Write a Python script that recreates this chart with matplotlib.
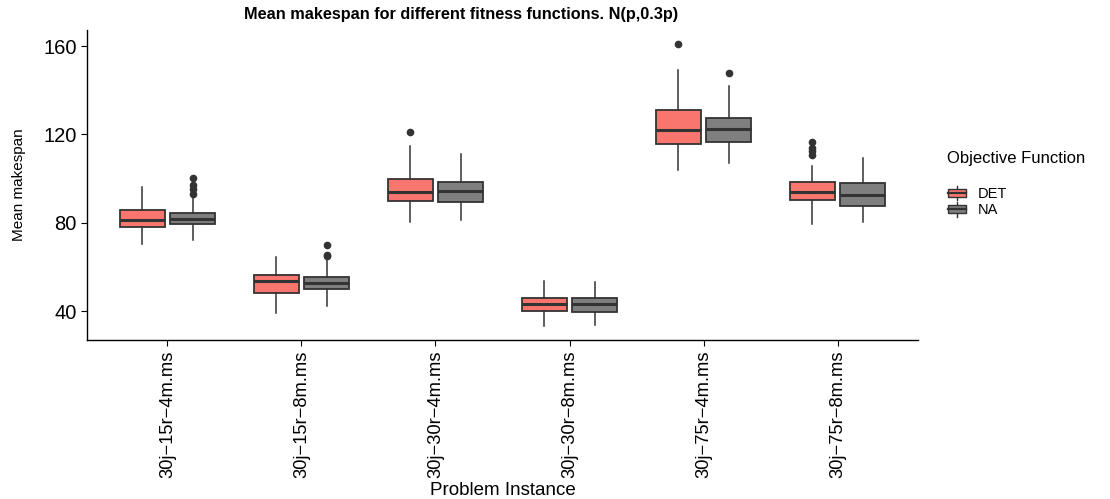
import matplotlib
matplotlib.use("Agg")
import matplotlib.pyplot as plt
from matplotlib.legend_handler import HandlerBase
from matplotlib.patches import Rectangle, Patch
from matplotlib.lines import Line2D

plt.rcParams["font.family"] = ["Liberation Sans", "DejaVu Sans"]

instances = ["30j\u221215r\u22124m.ms", "30j\u221215r\u22128m.ms", "30j\u221230r\u22124m.ms",
             "30j\u221230r\u22128m.ms", "30j\u221275r\u22124m.ms", "30j\u221275r\u22128m.ms"]

# DET fitness function: five-number summary per instance + outliers
det_low = [70.2, 39.1, 80.3, 33.2, 103.9, 79.4]
det_q1 = [78.0, 48.0, 89.8, 39.9, 115.5, 90.3]
det_med = [81.2, 53.7, 94.0, 43.0, 122.1, 94.0]
det_q3 = [85.7, 56.3, 99.8, 45.7, 130.9, 98.3]
det_high = [96.0, 64.5, 114.7, 53.4, 149.1, 105.7]
det_out = [[], [], [121.2], [], [160.9], [116.7, 113.7, 112.6, 110.7]]

# NA fitness function
na_low = [72.2, 42.3, 81.1, 33.6, 107.0, 80.3]
na_q1 = [79.3, 49.8, 89.2, 39.5, 116.5, 87.6]
na_med = [81.5, 52.5, 94.5, 43.0, 122.6, 92.7]
na_q3 = [84.4, 55.4, 98.3, 46.0, 127.5, 97.8]
na_high = [91.3, 63.6, 111.1, 53.1, 141.8, 109.4]
na_out = [[100.1, 97.2, 95.1, 92.9], [69.8, 65.5, 65.0], [], [], [147.7], []]

groups = ["DET", "NA"]
colors = {"DET": "#F8766D", "NA": "#7F7F7F"}
edge = "#333333"


def make_stats(low, q1, med, q3, high, out):
    return [dict(whislo=a, q1=b, med=c, q3=d, whishi=e, fliers=f)
            for a, b, c, d, e, f in zip(low, q1, med, q3, high, out)]


stats = {
    "DET": make_stats(det_low, det_q1, det_med, det_q3, det_high, det_out),
    "NA": make_stats(na_low, na_q1, na_med, na_q3, na_high, na_out),
}

fig = plt.figure(figsize=(11.1, 4.99), dpi=100)
ax = fig.add_axes([0.0784, 0.3186, 0.7486, 0.6214])

xpos = range(1, len(instances) + 1)
offsets = {"DET": -0.1875, "NA": 0.1875}
for g in groups:
    ax.bxp(stats[g], positions=[p + offsets[g] for p in xpos], widths=0.3375,
           showcaps=False, patch_artist=True,
           boxprops=dict(facecolor=colors[g], edgecolor=edge, linewidth=1.3),
           whiskerprops=dict(color=edge, linewidth=1.1),
           medianprops=dict(color=edge, linewidth=2.2),
           flierprops=dict(marker="o", markerfacecolor=edge, markeredgecolor=edge,
                           markersize=4.5))

ax.set_xlim(0.4, 6.6)
ax.set_ylim(26.9, 167.3)
ax.set_xticks(list(xpos))
ax.set_xticklabels(instances, rotation=90, fontsize=13.2)
ax.set_yticks([40, 80, 120, 160])
ax.tick_params(axis="y", labelsize=14.5, length=4, width=0.8, color="black")
ax.tick_params(axis="x", length=4, width=0.8, color="black")
for s in ["top", "right"]:
    ax.spines[s].set_visible(False)
for s in ["left", "bottom"]:
    ax.spines[s].set_linewidth(1.0)

ax.set_ylabel("Mean makespan", fontsize=11, labelpad=12)
ax.set_xlabel("Problem Instance", fontsize=13.5, labelpad=3)
fig.text(461.5 / 1110, 1 - 15 / 499,
         "Mean makespan for different fitness functions. N(p,0.3p)",
         fontsize=11.7, fontweight="bold", ha="center", va="center")


class BoxKey(HandlerBase):
    def create_artists(self, legend, orig_handle, xdescent, ydescent,
                       width, height, fontsize, trans):
        x0 = -xdescent
        y0 = -ydescent
        cx = x0 + width / 2
        cy = y0 + height / 2
        whisk = Line2D([cx, cx], [y0 - 1, y0 + height + 1], color=edge, lw=1.0,
                       transform=trans)
        box = Rectangle((x0, y0 + 0.18 * height), width, 0.64 * height,
                        facecolor=orig_handle.get_facecolor(), edgecolor=edge,
                        lw=1.0, transform=trans)
        med = Line2D([x0, x0 + width], [cy, cy], color=edge, lw=1.6, transform=trans)
        return [whisk, box, med]


handles = [Patch(facecolor=colors[g]) for g in groups]
fig.text(947 / 1110, 1 - 158 / 499, "Objective Function", fontsize=12, va="center")
fig.legend(handles, groups, handler_map={Patch: BoxKey()}, loc="upper left",
           bbox_to_anchor=(948 / 1110, 1 - 187 / 499), frameon=False,
           borderpad=0, borderaxespad=0, handlelength=1.25, handleheight=0.9,
           handletextpad=0.8, labelspacing=0.15, fontsize=10.5)

fig.savefig("out.png", dpi=100)
